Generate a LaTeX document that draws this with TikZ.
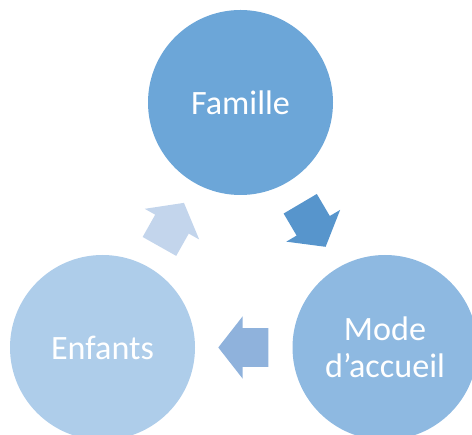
\documentclass[tikz,border=0pt]{standalone}
\usepackage{fontspec}
\setmainfont{Carlito}
\usetikzlibrary{shapes.arrows}
\definecolor{famblue}{RGB}{108,166,216}
\definecolor{modeblue}{RGB}{142,185,225}
\definecolor{enfblue}{RGB}{174,205,234}
\definecolor{arrowone}{RGB}{87,149,204}
\definecolor{arrowtwo}{RGB}{143,178,220}
\definecolor{arrowthree}{RGB}{195,213,236}
\begin{document}
\begin{tikzpicture}[x=0.75pt,y=0.75pt,
  cyclenode/.style={circle,draw=none,minimum size=138.75pt,inner sep=0pt,text=white,align=center,font=\fontsize{25.6}{28}\selectfont},
  cyclearrow/.style={single arrow,draw=none,minimum height=37.5pt,inner xsep=0pt,inner ysep=14.25pt,single arrow head extend=9pt,single arrow tip angle=104,sloped,allow upside down,anchor=tail}]
\clip (0,0) rectangle (472,435);

%Shape: Circle [famille]
\node[cyclenode,fill=famblue] (famille) at (240.5,332.5) {Famille};
%Shape: Circle [mode]
\node[cyclenode,fill=modeblue] (mode) at (385,87.5) {Mode\\d’accueil};
%Shape: Circle [enfants]
\node[cyclenode,fill=enfblue] (enfants) at (102.5,87.5) {Enfants};

%Block Arrow [famille to mode]
\path (famille) -- (mode) node[pos=0.248,cyclearrow,fill=arrowone] (famtomode) {};
%Block Arrow [mode to enfants]
\path (mode) -- (enfants) node[pos=0.244,cyclearrow,fill=arrowtwo] (modetoenf) {};
%Block Arrow [enfants to famille]
\path (enfants) -- (famille) node[pos=0.240,cyclearrow,fill=arrowthree] (enftofam) {};

\end{tikzpicture}
\end{document}
